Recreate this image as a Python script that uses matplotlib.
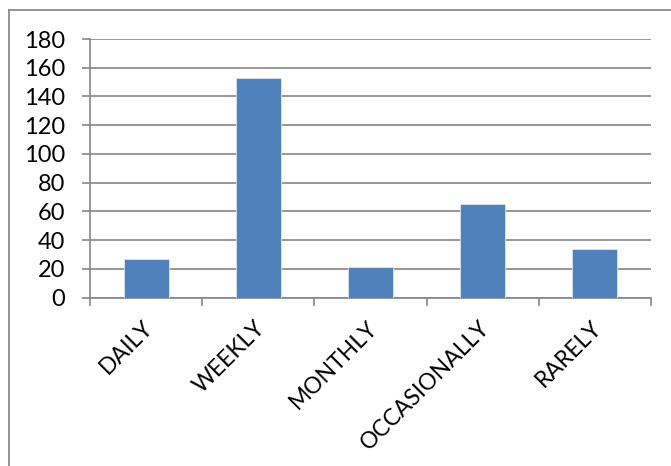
import matplotlib
matplotlib.use("Agg")
import matplotlib.pyplot as plt
from matplotlib.lines import Line2D
from matplotlib.transforms import ScaledTranslation

categories = ["DAILY", "WEEKLY", "MONTHLY", "OCCASIONALLY", "RARELY"]
values = [27, 153, 21, 65, 34]
y_ticks = [0, 20, 40, 60, 80, 100, 120, 140, 160, 180]

plt.rcParams["font.family"] = ["Lato", "DejaVu Sans"]

W, H = 671, 466
fig = plt.figure(figsize=(W / 100, H / 100), dpi=100)

# plot area in pixel coordinates
left, right, top, bottom = 90, 651, 39, 297.5
ax = fig.add_axes([left / W, 1 - bottom / H, (right - left) / W, (bottom - top) / H])

grid_color = "#868686"
x = list(range(len(categories)))
ax.bar(x, values, width=0.40, color="#4F81BD", edgecolor="#DCE6F2", linewidth=0.6, zorder=3)

ax.set_xlim(-0.5, len(categories) - 0.5)
ax.set_ylim(0, 180)
ax.set_yticks(y_ticks)
ax.set_yticklabels([str(v) for v in y_ticks], fontsize=17)
ax.yaxis.grid(True, color=grid_color, linewidth=1.2, zorder=0)
ax.set_axisbelow(True)

# x ticks at category boundaries, labels at centres
ax.set_xticks([i - 0.5 for i in range(len(categories) + 1)])
ax.set_xticklabels([])
ax.set_xticks(x, minor=True)
ax.set_xticklabels(categories, minor=True, rotation=45, ha="right",
                   rotation_mode="anchor", fontsize=16.5)
ax.tick_params(axis="x", which="minor", length=0, pad=14)
ax.tick_params(axis="x", which="major", length=6, color=grid_color, width=1.2)
ax.tick_params(axis="y", length=6, color=grid_color, width=1.2, pad=12)
shift = ScaledTranslation(-4 / 100, 0, fig.dpi_scale_trans)
for lbl in ax.get_xticklabels(minor=True):
    lbl.set_transform(lbl.get_transform() + shift)

for side in ["top", "right"]:
    ax.spines[side].set_visible(False)
for side in ["left", "bottom"]:
    ax.spines[side].set_color(grid_color)
    ax.spines[side].set_linewidth(1.2)

# chart frame (left and top edges)
fig.add_artist(Line2D([8.5 / W, 8.5 / W], [0, 1 - 9.5 / H], transform=fig.transFigure,
                      color="#8C8C8C", linewidth=1.3))
fig.add_artist(Line2D([8.5 / W, 1], [1 - 9.5 / H, 1 - 9.5 / H], transform=fig.transFigure,
                      color="#8C8C8C", linewidth=1.3))

fig.savefig("out.png", dpi=100)
